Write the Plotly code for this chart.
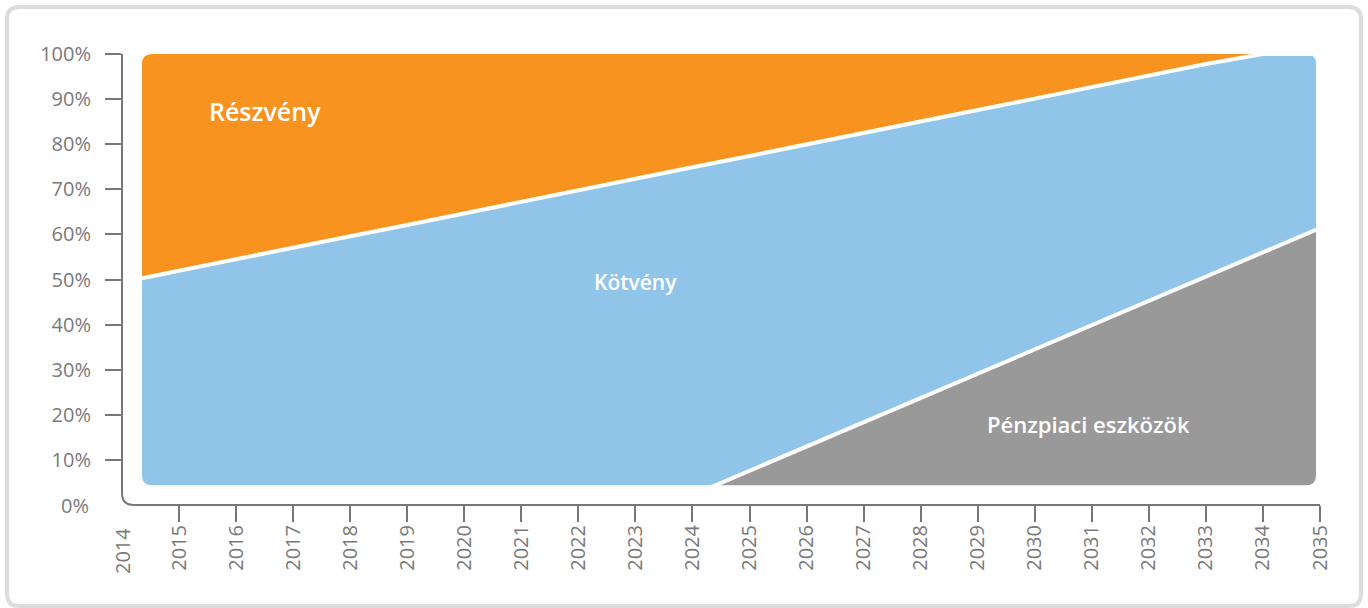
import plotly.graph_objects as go

# ---- data (percent of portfolio, by year) ----
years = list(range(2014, 2036))
penzpiaci = [0, 0, 0, 0, 0, 0, 0, 0, 0, 0, 2.2, 7.6, 13.0, 18.3, 23.7, 29.1,
             34.5, 39.9, 45.2, 50.6, 56.0, 61.4]
kotveny_plus_penz = [49.4, 52.0, 54.5, 57.0, 59.6, 62.1, 64.7, 67.2, 69.8, 72.3,
                     74.9, 77.4, 80.0, 82.5, 85.0, 87.6, 90.1, 92.7, 95.2, 97.8,
                     100.0, 100.0]
kotveny = [round(t - p, 2) for t, p in zip(kotveny_plus_penz, penzpiaci)]
reszveny = [round(100 - t, 2) for t in kotveny_plus_penz]

y_tickvals = [10, 20, 30, 40, 50, 60, 70, 80, 90, 100]
y_ticktext = [f"{v}%" for v in y_tickvals]
x_tickvals = list(range(2015, 2036))

series_names = ["Pénzpiaci eszközök", "Kötvény", "Részvény"]

ORANGE = "#F7931E"
BLUE = "#91C4E9"
GRAY = "#999999"
AXIS = "#777777"
TICKFONT = dict(family="Open Sans", size=20, color="#7a7a7a")

fig = go.Figure()
fig.add_trace(go.Scatter(x=years, y=penzpiaci, name=series_names[0], stackgroup="a",
                         mode="lines", fillcolor=GRAY,
                         line=dict(color="white", width=4), hoverinfo="skip"))
fig.add_trace(go.Scatter(x=years, y=kotveny, name=series_names[1], stackgroup="a",
                         mode="lines", fillcolor=BLUE,
                         line=dict(color="white", width=4), hoverinfo="skip"))
fig.add_trace(go.Scatter(x=years, y=reszveny, name=series_names[2], stackgroup="a",
                         mode="lines", fillcolor=ORANGE,
                         line=dict(color="white", width=0), hoverinfo="skip"))

# inset rounded window for the coloured areas (white mask around it)
x0, x1, y0, y1 = 2014.35, 2034.93, 4.4, 100.0
rx, ry = 10 / 57.05, 10 / 4.51
inner = (f"M {x0+rx},{y0} L {x1-rx},{y0} Q {x1},{y0} {x1},{y0+ry} "
         f"L {x1},{y1-ry} Q {x1},{y1} {x1-rx},{y1} L {x0+rx},{y1} "
         f"Q {x0},{y1} {x0},{y1-ry} L {x0},{y0+ry} Q {x0},{y0} {x0+rx},{y0} Z")
outer = "M 2013,-10 L 2036,-10 L 2036,110 L 2013,110 Z"
shapes = [dict(type="path", xref="x", yref="y", path=outer + " " + inner,
               fillcolor="white", fillrule="evenodd", line=dict(width=0),
               layer="above")]

# axis lines with rounded corner (paper coords)
W, H = 1198.0, 451.0
cr = 12
axis_path = (f"M 0,1 L 0,{cr/H} Q 0,0 {cr/W},0 L 1,0")
shapes.append(dict(type="path", xref="paper", yref="paper", path=axis_path,
                   line=dict(color=AXIS, width=2), layer="above"))

# outer frame
def px(xp):
    return (xp - 122) / W

def py(yp):
    return (505 - yp) / H

fl, fr, ft, fb = px(7), px(1361), py(7), py(606)
fx, fy = 12 / W, 12 / H
frame = (f"M {fl+fx},{ft} L {fr-fx},{ft} Q {fr},{ft} {fr},{ft-fy} "
         f"L {fr},{fb+fy} Q {fr},{fb} {fr-fx},{fb} L {fl+fx},{fb} "
         f"Q {fl},{fb} {fl},{fb+fy} L {fl},{ft-fy} Q {fl},{ft} {fl+fx},{ft} Z")
shapes.append(dict(type="path", xref="paper", yref="paper", path=frame,
                   line=dict(color="#DDDDDD", width=4), layer="below"))

def labelfont(size):
    return dict(family="Open Sans", size=size, color="white", weight=600)

annotations = [
    dict(x=2016.5, y=87.3, xref="x", yref="y", text="Részvény", showarrow=False,
         font=labelfont(25), xanchor="center", yanchor="middle"),
    dict(x=2023.0, y=49.5, xref="x", yref="y", text="Kötvény", showarrow=False,
         font=labelfont(21), xanchor="center", yanchor="middle"),
    dict(x=2030.95, y=18.0, xref="x", yref="y", text="Pénzpiaci eszközök",
         showarrow=False, font=labelfont(22), xanchor="center", yanchor="middle"),
    # labels at the axis corner (no tick marks there)
    dict(x=0, y=0, xref="paper", yref="paper", text="0%", showarrow=False,
         font=TICKFONT, xanchor="right", yanchor="middle", xshift=-31),
    dict(x=0, y=0, xref="paper", yref="paper", text="2014", showarrow=False,
         font=TICKFONT, textangle=-90, xanchor="center", yanchor="top", yshift=-21),
]

fig.update_layout(
    width=1368, height=608,
    margin=dict(l=122, r=48, t=54, b=103),
    paper_bgcolor="white", plot_bgcolor="white",
    showlegend=False,
    shapes=shapes,
    annotations=annotations,
    xaxis=dict(range=[2014, 2035], tickvals=x_tickvals,
               ticktext=[str(v) for v in x_tickvals], tickangle=-90,
               ticks="outside", ticklen=16, tickwidth=2, tickcolor=AXIS,
               ticklabelstandoff=-5,
               showline=False, showgrid=False, zeroline=False,
               tickfont=TICKFONT, fixedrange=True),
    yaxis=dict(range=[0, 100], tickvals=y_tickvals, ticktext=y_ticktext,
               ticks="outside", ticklen=16, tickwidth=2, tickcolor=AXIS,
               ticklabelstandoff=10,
               showline=False, showgrid=False, zeroline=False,
               tickfont=TICKFONT, fixedrange=True),
)

fig.write_html("out.html", config={"displayModeBar": False},
               post_script="document.body.style.margin='0';")
